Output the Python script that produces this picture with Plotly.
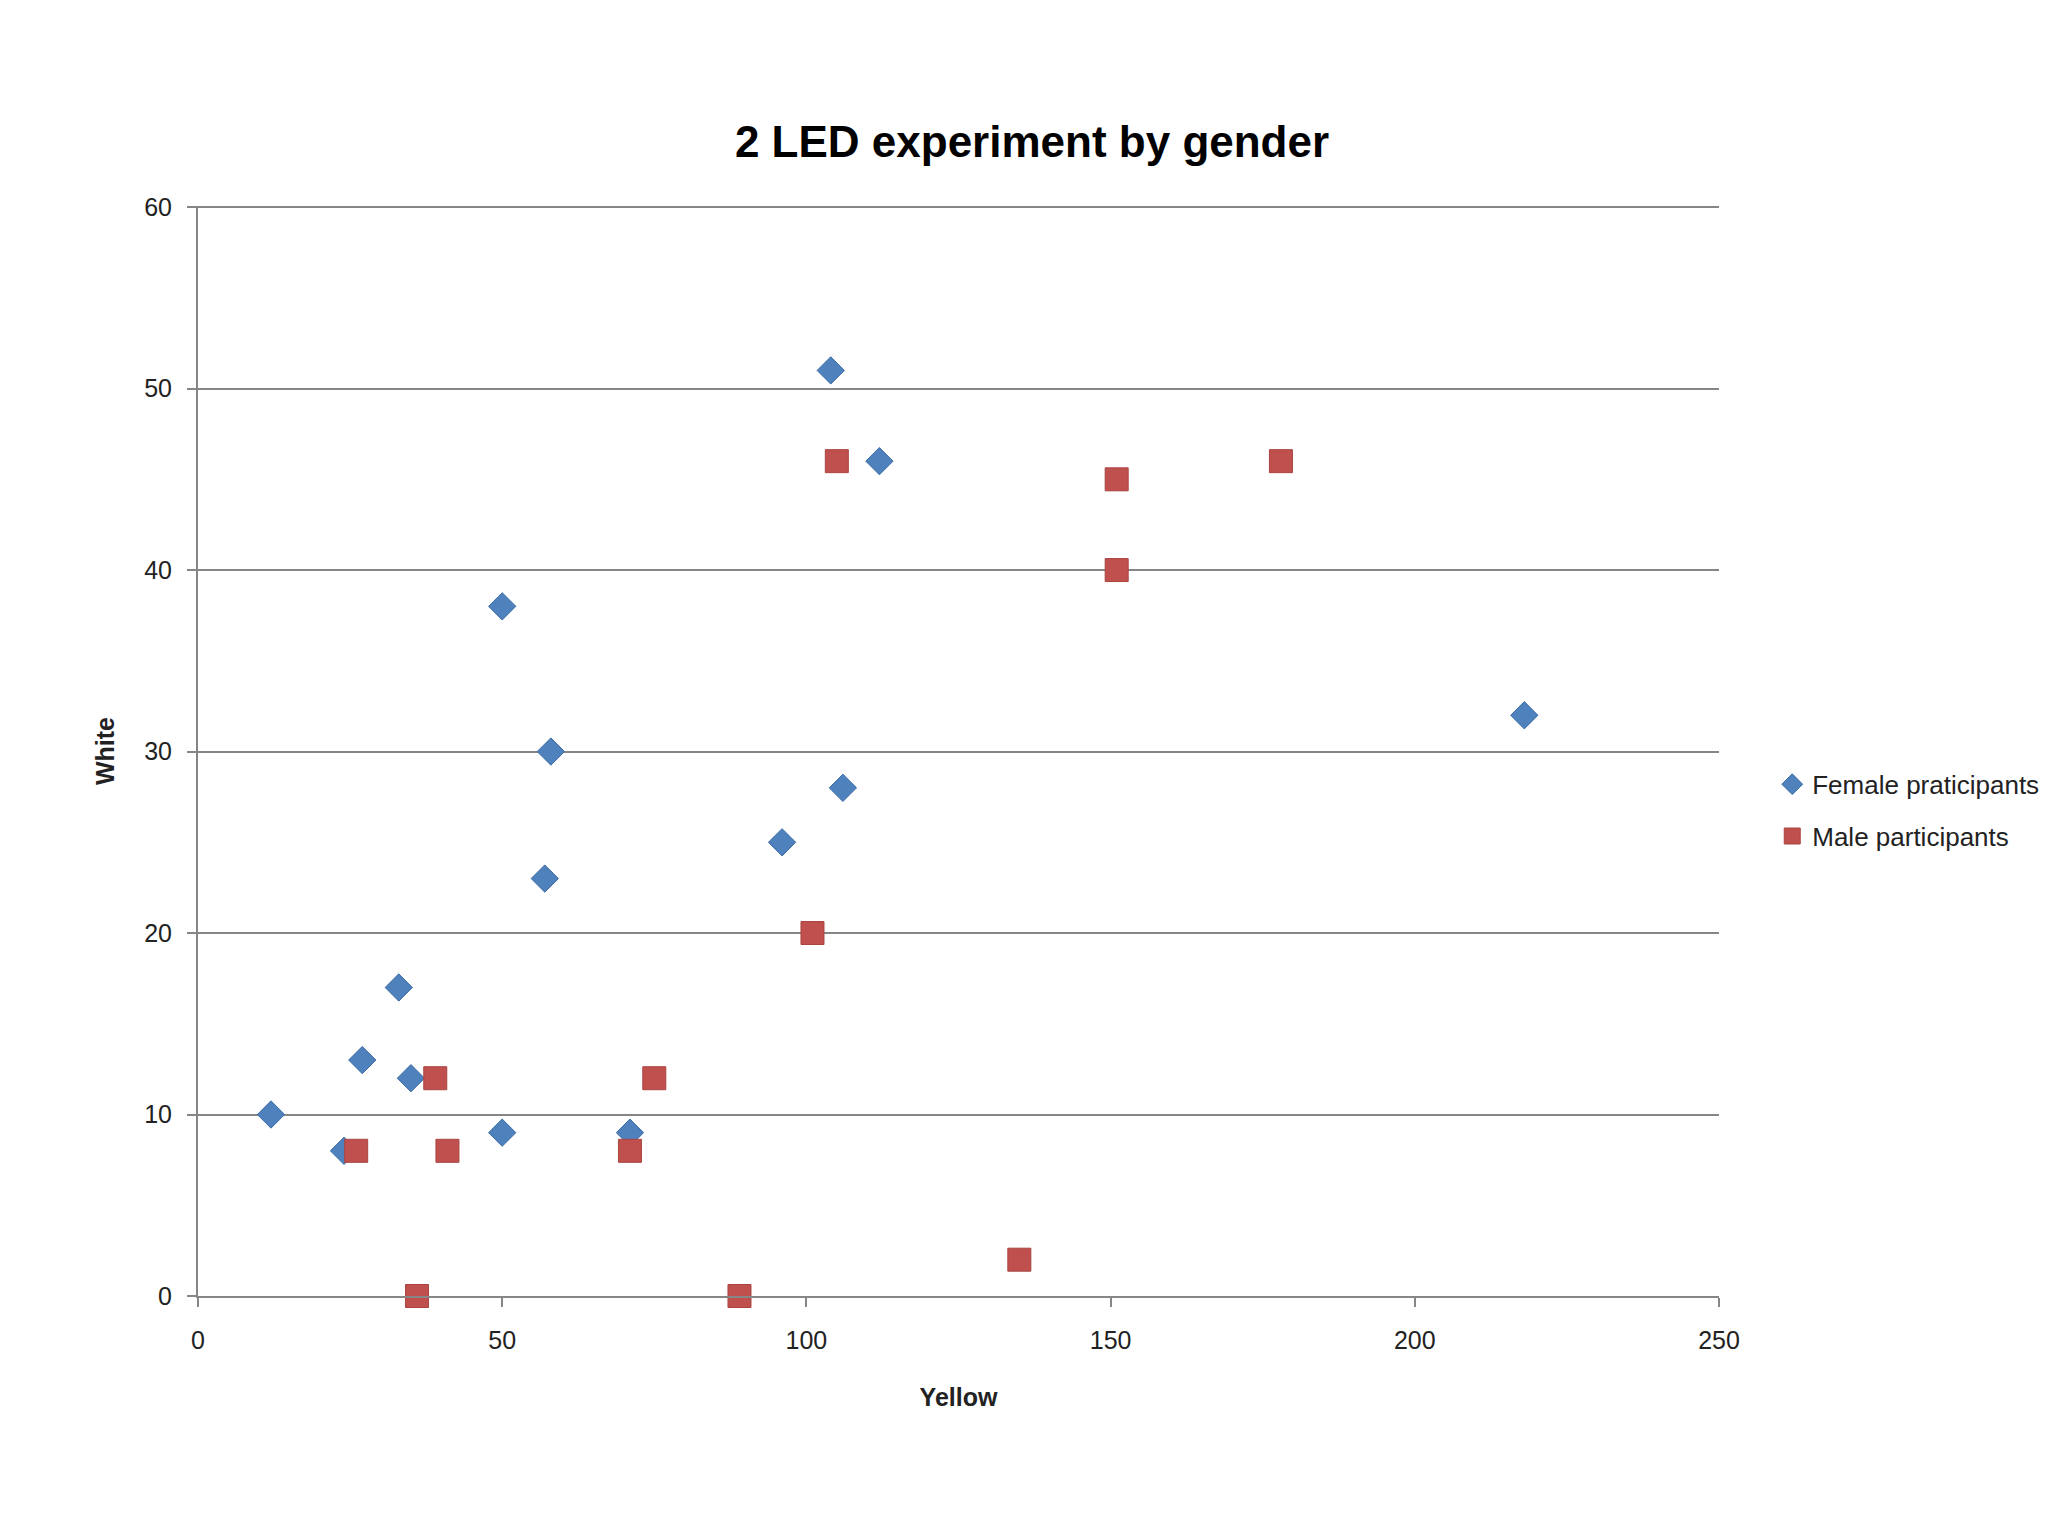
import plotly.graph_objects as go

female_x = [12, 24, 27, 33, 35, 50, 50, 58, 57, 71, 96, 104, 106, 112, 218]
female_y = [10, 8, 13, 17, 12, 38, 9, 30, 23, 9, 25, 51, 28, 46, 32]
male_x = [26, 36, 39, 41, 71, 75, 89, 101, 105, 135, 151, 151, 178]
male_y = [8, 0, 12, 8, 8, 12, 0, 20, 46, 2, 45, 40, 46]

x_ticks = [0, 50, 100, 150, 200, 250]
y_ticks = [0, 10, 20, 30, 40, 50, 60]

FONT = "Liberation Sans Narrow, Liberation Sans, sans-serif"

fig = go.Figure()
fig.add_trace(go.Scatter(
    x=female_x, y=female_y, mode="markers", name="Female praticipants",
    legendgroup="f", cliponaxis=False,
    marker=dict(symbol="diamond", size=21, color="#4F81BD",
                line=dict(width=1, color="#3A6BA6")),
))
fig.add_trace(go.Scatter(
    x=male_x, y=male_y, mode="markers", name="Male participants",
    legendgroup="m", cliponaxis=False,
    marker=dict(symbol="square", size=23, color="#C0504D",
                line=dict(width=1, color="#A94441")),
))

fig.update_layout(
    width=2048, height=1536,
    paper_bgcolor="white", plot_bgcolor="white",
    margin=dict(l=190, r=332, t=198, b=248),
    font=dict(family=FONT, size=24, color="#222222"),
    title=dict(text="<b>2 LED experiment by gender</b>", x=0.5, xanchor="center",
               y=1 - 134 / 1536, yanchor="middle",
               font=dict(family=FONT, size=44, color="black")),
    legend=dict(x=1.035, y=0.491, xanchor="left", yanchor="top",
                font=dict(family=FONT, size=26, color="#222222"),
                traceorder="grouped", tracegroupgap=15,
                bgcolor="rgba(0,0,0,0)"),
    showlegend=True,
)
fig.update_xaxes(
    range=[0, 250], tickvals=x_ticks, ticktext=[str(v) for v in x_ticks],
    showgrid=False, zeroline=False,
    showline=True, linecolor="#868686", linewidth=2,
    ticks="outside", ticklen=9, tickcolor="#868686", tickwidth=2,
    ticklabelstandoff=12,
    tickfont=dict(family=FONT, size=25, color="#222222"),
    title=dict(text="<b>Yellow</b>", standoff=35,
               font=dict(family=FONT, size=25, color="#222222")),
)
fig.update_yaxes(
    range=[0, 60.06], tickvals=y_ticks, ticktext=[str(v) for v in y_ticks],
    showgrid=True, gridcolor="#868686", gridwidth=1.5, zeroline=False,
    showline=True, linecolor="#868686", linewidth=2,
    ticks="outside", ticklen=9, tickcolor="#868686", tickwidth=2,
    ticklabelstandoff=10,
    tickfont=dict(family=FONT, size=25, color="#222222"),
    title=dict(text="<b>White</b>", standoff=22,
               font=dict(family=FONT, size=25, color="#222222")),
)

fig.write_html("out.html")
